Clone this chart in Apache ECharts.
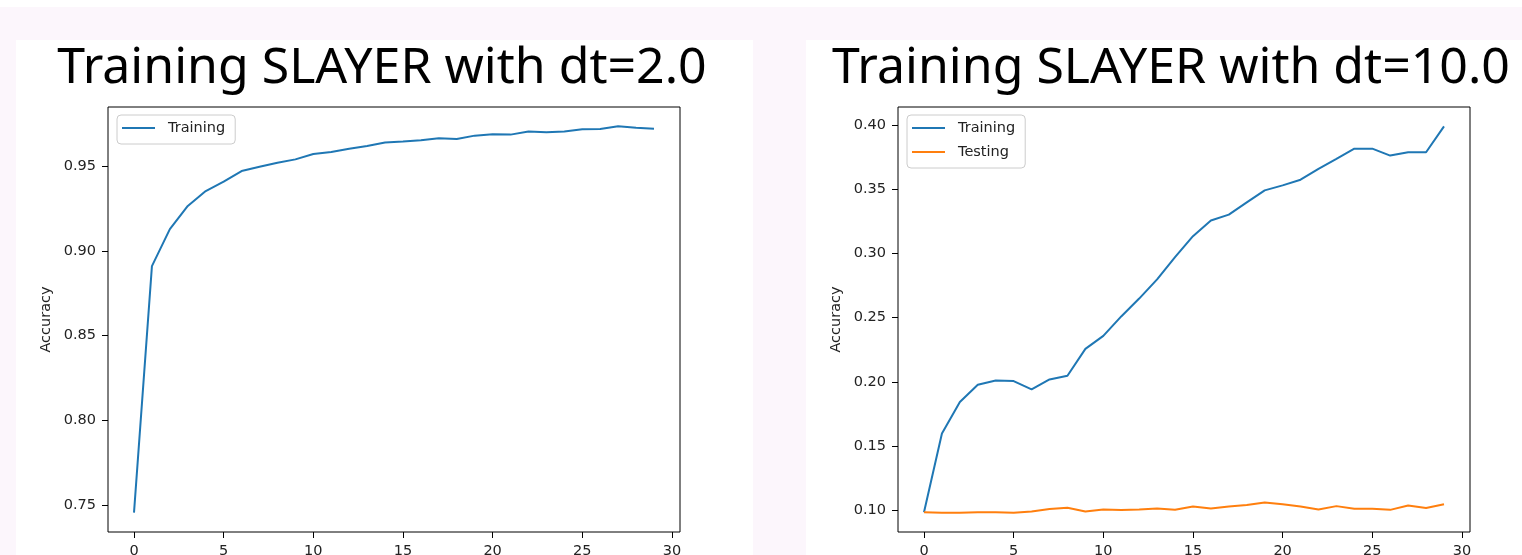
<!DOCTYPE html>
<html><head><meta charset="utf-8">
<script src="https://cdn.jsdelivr.net/npm/echarts@6/dist/echarts.min.js"></script>
<style>
html,body{margin:0;padding:0;background:#fff;}
#wrap{position:relative;width:1522px;height:555px;overflow:hidden;}
.bg{position:absolute;}
#chart{position:absolute;left:0;top:0;width:1522px;height:555px;}
</style></head><body>
<div id="wrap">
<div class="bg" style="left:0;top:7px;width:1522px;height:548px;background:#fcf6fc"></div>
<div class="bg" style="left:16px;top:40px;width:737px;height:515px;background:#fff"></div>
<div class="bg" style="left:806px;top:40px;width:716px;height:515px;background:#fff"></div>
<div id="chart"></div>
</div>
<script>
const epochs = [0,1,2,3,4,5,6,7,8,9,10,11,12,13,14,15,16,17,18,19,20,21,22,23,24,25,26,27,28,29];
const trainDt2 = [0.7455,0.891,0.9128,0.9265,0.9353,0.9408,0.9471,0.9496,0.952,0.954,
  0.9572,0.9584,0.9602,0.9619,0.9639,0.9645,0.9653,0.9664,0.966,0.968,
  0.9688,0.9686,0.9705,0.970,0.9705,0.9717,0.9719,0.9735,0.9727,0.9721];
const trainDt10 = [0.0984,0.1597,0.1842,0.1977,0.201,0.2005,0.194,0.2018,0.2047,0.2256,
  0.2357,0.2509,0.2648,0.2798,0.2971,0.3134,0.3256,0.3302,0.3398,0.3491,
  0.353,0.3574,0.3659,0.3736,0.3816,0.3816,0.3762,0.3788,0.3788,0.399];
const testDt10 = [0.0984,0.098,0.098,0.0984,0.0984,0.098,0.099,0.1008,0.1018,0.0989,
  0.1005,0.100,0.1005,0.1012,0.1002,0.1028,0.1012,0.1028,0.1039,0.1059,
  0.1046,0.1028,0.1005,0.1031,0.101,0.101,0.1002,0.1036,0.1016,0.1046];
const xTicks = [0,5,10,15,20,25,30];
const yTicksDt2 = [0.75,0.80,0.85,0.90,0.95];
const yTicksDt10 = [0.10,0.15,0.20,0.25,0.30,0.35,0.40];
const titles = ['Training SLAYER with dt=2.0','Training SLAYER with dt=10.0'];
const seriesNames = ['Training','Testing'];
const yName = 'Accuracy';

function padRange(arrs){
  let mn=Infinity,mx=-Infinity;
  arrs.forEach(a=>a.forEach(v=>{mn=Math.min(mn,v);mx=Math.max(mx,v);}));
  const r=mx-mn; return [mn-0.05*r, mx+0.05*r];
}
const xr = padRange([epochs]);
const y1 = padRange([trainDt2]);
const y2 = padRange([trainDt10,testDt10]);

const font = 'DejaVu Sans';
const txt = '#222';
function xAxis(gi){
  return {type:'value',gridIndex:gi,min:xr[0],max:xr[1],
    axisLine:{show:false,onZero:false},splitLine:{show:false},
    axisTick:{show:true,inside:false,length:6,lineStyle:{color:'#000',width:1},customValues:xTicks},
    axisLabel:{show:true,margin:12,color:txt,fontFamily:font,fontSize:14.5,customValues:xTicks,formatter:v=>String(v)}};
}
function yAxis(gi,rng,ticks){
  return {type:'value',gridIndex:gi,min:rng[0],max:rng[1],
    name:yName,nameLocation:'middle',nameRotate:90,nameGap:54,
    nameTextStyle:{color:txt,fontFamily:font,fontSize:14.5},
    axisLine:{show:false,onZero:false},splitLine:{show:false},
    axisTick:{show:true,inside:false,length:6,lineStyle:{color:'#000',width:1},customValues:ticks},
    axisLabel:{show:true,margin:12,color:txt,fontFamily:font,fontSize:14.5,customValues:ticks,formatter:v=>v.toFixed(2)}};
}
function legend(left,names){
  return {orient:'vertical',left:left,top:115,data:names,icon:'rect',
    backgroundColor:'rgba(255,255,255,0.8)',borderColor:'#cccccc',borderWidth:1,borderRadius:4,
    padding:[5,10,8,5],itemWidth:33,itemHeight:2,itemGap:8,
    textStyle:{color:txt,fontFamily:font,fontSize:14.5,lineHeight:16,padding:[0,0,0,8]}};
}
const chart = echarts.init(document.getElementById('chart'),null,{renderer:'canvas'});
chart.setOption({
  backgroundColor:'transparent',
  animation:false,
  grid:[
    {left:108,top:107,width:572,height:425,containLabel:false,outerBoundsMode:'none',show:true,borderColor:'#000',borderWidth:1,backgroundColor:'#fff'},
    {left:898,top:107,width:572,height:425,containLabel:false,outerBoundsMode:'none',show:true,borderColor:'#000',borderWidth:1,backgroundColor:'#fff'}
  ],
  xAxis:[xAxis(0),xAxis(1)],
  yAxis:[yAxis(0,y1,yTicksDt2),yAxis(1,y2,yTicksDt10)],
  legend:[legend(117,[seriesNames[0]]),legend(907,seriesNames)],
  graphic:[
    {type:'text',style:{text:titles[0],x:382,y:69,textAlign:'center',textVerticalAlign:'middle',fontFamily:'Noto Sans',fontSize:50,fill:'#000'}},
    {type:'text',style:{text:titles[1],x:1171,y:69,textAlign:'center',textVerticalAlign:'middle',fontFamily:'Noto Sans',fontSize:50,fill:'#000'}}
  ],
  series:[
    {name:seriesNames[0],type:'line',xAxisIndex:0,yAxisIndex:0,symbol:'none',data:epochs.map((e,i)=>[e,trainDt2[i]]),lineStyle:{color:'#1f77b4',width:2},itemStyle:{color:'#1f77b4'}},
    {name:seriesNames[0],type:'line',xAxisIndex:1,yAxisIndex:1,symbol:'none',data:epochs.map((e,i)=>[e,trainDt10[i]]),lineStyle:{color:'#1f77b4',width:2},itemStyle:{color:'#1f77b4'}},
    {name:seriesNames[1],type:'line',xAxisIndex:1,yAxisIndex:1,symbol:'none',data:epochs.map((e,i)=>[e,testDt10[i]]),lineStyle:{color:'#ff7f0e',width:2},itemStyle:{color:'#ff7f0e'}}
  ]
});
</script>
</body></html>
